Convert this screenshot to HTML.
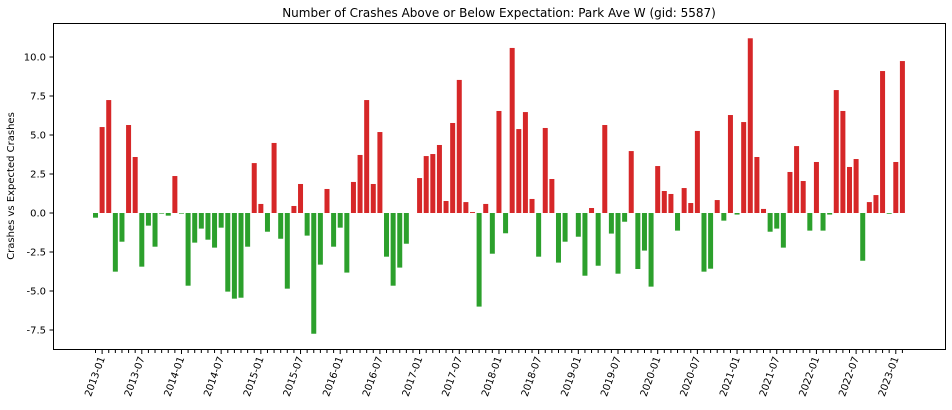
<!DOCTYPE html>
<html><head><meta charset="utf-8"><style>
body{margin:0;background:#fff;font-family:"DejaVu Sans",sans-serif}
</style></head><body>
<svg id="chart" width="952" height="406" xmlns="http://www.w3.org/2000/svg" font-family="DejaVu Sans, Liberation Sans, sans-serif">
<rect width="952" height="406" fill="#fff"/>
<text x="499" y="17" font-size="12" text-anchor="middle" fill="#000">Number of Crashes Above or Below Expectation: Park Ave W (gid: 5587)</text>
<text transform="translate(14,186) rotate(-90)" font-size="10" text-anchor="middle" fill="#000">Crashes vs Expected Crashes</text>
<g id="bars"></g><g id="yticks"></g><g id="xticks"></g>
<rect x="53.5" y="23.5" width="892" height="326" fill="none" stroke="#000" stroke-width="1"/>
</svg>
<script>
const startYear = 2012, startMonth = 12;
const values = [-0.3,5.51,7.24,-3.76,-1.84,5.64,3.59,-3.44,-0.81,-2.16,-0.04,-0.17,2.37,-0.04,-4.66,-1.9,-1.0,-1.71,-2.22,-0.94,-5.04,-5.49,-5.43,-2.16,3.2,0.58,-1.2,4.49,-1.65,-4.85,0.45,1.86,-1.45,-7.74,-3.31,1.54,-2.16,-0.94,-3.82,1.99,3.72,7.24,1.86,5.19,-2.8,-4.66,-3.5,-1.97,0,2.24,3.65,3.78,4.36,0.77,5.77,8.53,0.7,0.06,-6.0,0.58,-2.61,6.54,-1.3,10.58,5.38,6.47,0.9,-2.8,5.45,2.18,-3.18,-1.84,0,-1.52,-4.02,0.32,-3.38,5.64,-1.32,-3.89,-0.56,3.97,-3.59,-2.41,-4.72,3.01,1.41,1.22,-1.13,1.6,0.64,5.26,-3.76,-3.57,0.83,-0.49,6.28,-0.1,5.83,11.2,3.59,0.26,-1.2,-1.0,-2.22,2.63,4.29,2.05,-1.13,3.27,-1.13,-0.1,7.88,6.54,2.95,3.46,-3.06,0.7,1.15,9.1,-0.05,3.27,9.74];
const yTicks = [-7.5,-5.0,-2.5,0.0,2.5,5.0,7.5,10.0];
const NS='http://www.w3.org/2000/svg';
function y(v){return 213-15.6*v;}
function x(i){return 95.5+i*6.614;}
function mk(t,a){const e=document.createElementNS(NS,t);for(const k in a)e.setAttribute(k,a[k]);return e;}
const bars=document.getElementById('bars');
values.forEach((v,i)=>{
  const r=mk('rect',{x:x(i)-2.5,y:Math.min(y(v),y(0)),width:5,height:Math.abs(y(v)-y(0)),fill:v>=0?'#d62728':'#2ca02c'});
  
  
  bars.appendChild(r);
});
const yt=document.getElementById('yticks');
yTicks.forEach(v=>{
  const l=mk('line',{x1:49.5,x2:53.5,y1:y(v),y2:y(v),stroke:'#000'});
  
  
  yt.appendChild(l);
  const t=mk('text',{x:46,y:y(v)+3.5,'font-size':10,'text-anchor':'end'});
  
  
  t.textContent=v.toFixed(1);
  yt.appendChild(t);
});
const xt=document.getElementById('xticks');
values.forEach((v,i)=>{
  const m=(startMonth-1+i)%12+1, yr=startYear+Math.floor((startMonth-1+i)/12);
  const major=(m===1||m===7);
  const l=mk('line',{x1:x(i),x2:x(i),y1:349.5,y2:major?354:353,stroke:'#000'});
  
  
  xt.appendChild(l);
  if(major){
    const t=mk('text',{'font-size':10,'text-anchor':'end',transform:`translate(${x(i)+3},${358}) rotate(-70)`});
    
    
    t.textContent=yr+'-'+String(m).padStart(2,'0');
    xt.appendChild(t);
  }
});
</script>
</body></html>
